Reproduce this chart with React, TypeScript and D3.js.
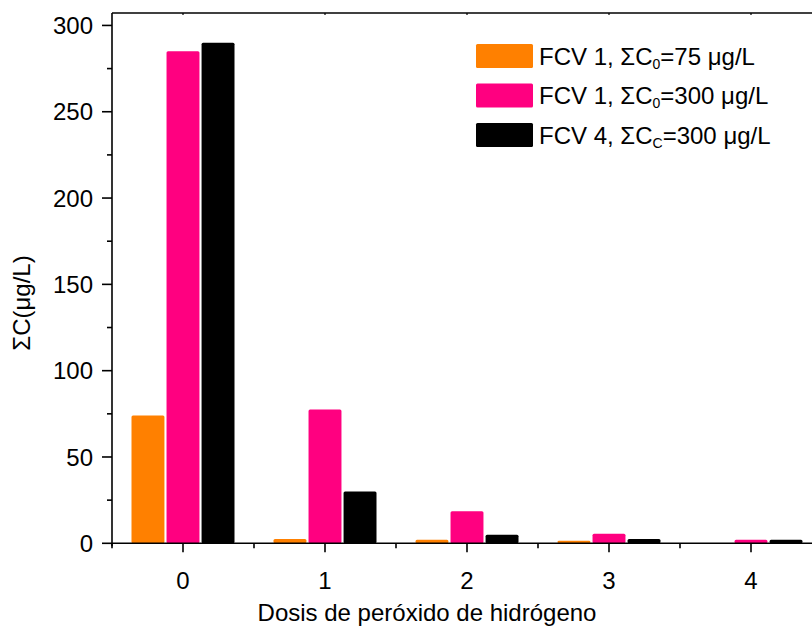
import React from "react";
import * as d3 from "d3";

const categories = [0, 1, 2, 3, 4];
const seriesNames = ["FCV 1, ΣC0=75 μg/L", "FCV 1, ΣC0=300 μg/L", "FCV 4, ΣCC=300 μg/L"];
const seriesMain = ["FCV 1, ΣC", "FCV 1, ΣC", "FCV 4, ΣC"];
const seriesSub = ["0", "0", "C"];
const seriesTail = ["=75 μg/L", "=300 μg/L", "=300 μg/L"];
const orange75 = [74, 2.5, 2, 1.5, 0];
const pink300 = [285, 77.5, 18.5, 5.5, 2];
const black300 = [290, 30, 5, 2.5, 2];
const seriesColors = ["#FF8000", "#FF0080", "#000000"];
const yTicks = [0, 50, 100, 150, 200, 250, 300];
const yMinor = [25, 75, 125, 175, 225, 275];
const xMinor = [-0.5, 0.5, 1.5, 2.5, 3.5, 4.5];

const W = 812;
const H = 628;
const FONT = "'Liberation Sans', Arial, sans-serif";

export default function App() {
  const series = [orange75, pink300, black300];
  const x = d3.scaleLinear().domain([-0.5, 4.5]).range([112, 822]);
  const y = d3.scaleLinear().domain([0, 307.2]).range([543.3, 13]);
  const sub = d3.scaleBand<number>().domain([0, 1, 2]).range([-51.5, 51.5]).paddingInner(0.06);
  const y0 = y(0);
  const axisColor = "#000";

  return (
    <svg width={W} height={H} style={{ position: "absolute", left: 0, top: 0, background: "#fff" }}
      fontFamily={FONT}>
      {series.map((vals, si) =>
        vals.map((v, ci) => {
          if (v <= 0) return null;
          const bx = x(categories[ci]) + (sub(si) as number);
          const by = y(v);
          return (
            <rect key={`b${si}-${ci}`} x={bx} y={by} width={sub.bandwidth()} height={y0 - by}
              fill={seriesColors[si]} rx={1.5} ry={1.5} />
          );
        })
      )}
      <line x1={112} x2={W} y1={y0} y2={y0} stroke={axisColor} strokeWidth={1.6} />
      <line x1={112} x2={112} y1={13} y2={y0 + 3} stroke={axisColor} strokeWidth={1.6} />
      <line x1={112} x2={W} y1={13} y2={13} stroke={axisColor} strokeWidth={1.6} />
      {yTicks.map((t) => (
        <g key={`yt${t}`}>
          <line x1={102} x2={112} y1={y(t)} y2={y(t)} stroke={axisColor} strokeWidth={1.6} />
          <text x={93} y={y(t)} dy="0.36em" textAnchor="end" fontSize={24}>{t}</text>
        </g>
      ))}
      {yMinor.map((t) => (
        <line key={`ym${t}`} x1={107} x2={112} y1={y(t)} y2={y(t)} stroke={axisColor} strokeWidth={1.6} />
      ))}
      {categories.map((c) => (
        <g key={`xt${c}`}>
          <line x1={x(c)} x2={x(c)} y1={y0} y2={y0 + 9} stroke={axisColor} strokeWidth={1.6} />
          <line x1={x(c)} x2={x(c)} y1={13} y2={15} stroke={axisColor} strokeWidth={1.2} />
          <text x={x(c)} y={589} textAnchor="middle" fontSize={24}>{c}</text>
        </g>
      ))}
      {xMinor.map((c) => (
        <line key={`xm${c}`} x1={x(c)} x2={x(c)} y1={y0} y2={y0 + 5} stroke={axisColor} strokeWidth={1.6} />
      ))}
      <text x={427} y={621} textAnchor="middle" fontSize={24}>Dosis de peróxido de hidrógeno</text>
      <text transform={`translate(30, ${303}) rotate(-90)`} textAnchor="middle" fontSize={24}>ΣC(μg/L)</text>
      {seriesNames.map((name, i) => {
        const top = 44 + i * 39.5;
        return (
          <g key={`lg${i}`} aria-label={name}>
            <rect x={476} y={top} width={57} height={24} fill={seriesColors[i]} rx={1.5} />
            <text x={539} y={top + 20.5} fontSize={24}>
              {seriesMain[i]}
              <tspan fontSize={14} dy={4}>{seriesSub[i]}</tspan>
              <tspan dy={-4}>{seriesTail[i]}</tspan>
            </text>
          </g>
        );
      })}
    </svg>
  );
}
